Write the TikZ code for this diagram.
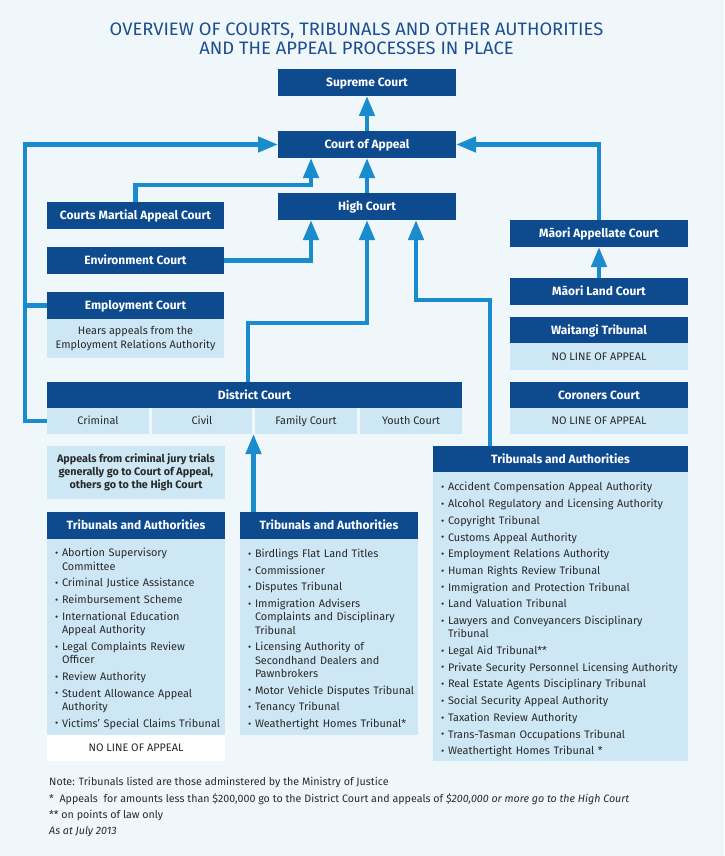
\documentclass[tikz,border=0pt]{standalone}
\usepackage{fontspec}
\setmainfont{Fira Sans}
\newfontfamily\titlefont[FakeStretch=1.02]{Fira Sans}
\usepackage{graphicx}
\usetikzlibrary{arrows.meta,calc}
\definecolor{bgc}{HTML}{F0F7FB}
\definecolor{dkc}{HTML}{0D4A8E}
\definecolor{ltc}{HTML}{CDE7F4}
\definecolor{arc}{HTML}{1A8CCE}
\definecolor{ttc}{HTML}{1D4E8F}
\definecolor{txc}{HTML}{2A2A2A}
\newcommand\itm[1]{\par\hangindent=7pt\hangafter=1\noindent\strut\makebox[7pt][l]{\raisebox{0.3pt}{\scalebox{0.9}{\textbullet}}}#1}
\newcommand\nl{\hfil\break}
\tikzset{
  box/.style={inner sep=0pt, outer sep=0pt, anchor=north west},
  hdr/.style={box, fill=dkc, text=white, font=\fontsize{12}{13}\selectfont\bfseries, text height=8.2pt, text depth=0pt},
  cell/.style={box, fill=ltc, text=txc, font=\fontsize{10.9}{13.3}\selectfont, text height=7.5pt, text depth=0pt},
  pane/.style={box, fill=ltc},
  listtxt/.style={inner sep=0pt, outer sep=0pt, anchor=north west, text=txc, font=\fontsize{10.9}{13.3}\selectfont, align=left},
  arr/.style={draw=arc, line width=4.5pt, -{Triangle[length=20pt,width=15pt]}},
  ln/.style={draw=arc, line width=4.5pt},
  note/.style={inner sep=0pt, anchor=base west, text=txc, font=\fontsize{10.7}{12}\selectfont},
  ttl/.style={inner sep=0pt, anchor=base, text=ttc, font=\titlefont\fontsize{18}{19}\selectfont},
}
\begin{document}
\begin{tikzpicture}[x=1pt,y=-1pt]
\fill[bgc] (0,0) rectangle (724,856);
\useasboundingbox (0,0) rectangle (724,856);
% title
\node[ttl] (t1) at (356.5,36) {OVERVIEW OF COURTS, TRIBUNALS AND OTHER AUTHORITIES};
\node[ttl] (t2) at (356.5,55) {AND THE APPEAL PROCESSES IN PLACE};
% central courts
\node[hdr, minimum width=178pt, minimum height=27pt] (sc) at (278,69) {Supreme Court};
\node[hdr, minimum width=178pt, minimum height=27pt] (coa) at (278,131) {Court of Appeal};
\node[hdr, minimum width=178pt, minimum height=27pt] (hc) at (278,193) {High Court};
% left courts
\node[hdr, minimum width=177pt, minimum height=27pt] (cma) at (47,202) {Courts Martial Appeal Court};
\node[hdr, minimum width=177pt, minimum height=27pt] (env) at (47,247) {Environment Court};
\node[hdr, minimum width=177pt, minimum height=27pt] (emp) at (47,292) {Employment Court};
\node[box, fill=ltc, text=txc, font=\fontsize{10.9}{13.3}\selectfont, align=center, minimum width=177pt, minimum height=39pt] (empd) at (47,319) {Hears appeals from the\\Employment Relations Authority};
% district court
\node[hdr, minimum width=415pt, minimum height=26pt] (dc) at (47,382) {District Court};
\node[cell, minimum width=102pt, minimum height=26pt] (crim) at (47,408) {Criminal};
\node[cell, minimum width=100pt, minimum height=26pt] (civ) at (152,408) {Civil};
\node[cell, minimum width=102pt, minimum height=26pt] (fam) at (255,408) {Family Court};
\node[cell, minimum width=102pt, minimum height=26pt] (yth) at (360,408) {Youth Court};
% appeals note
\node[box, fill=ltc, text=txc, font=\fontsize{10.8}{13.3}\selectfont\bfseries, align=center, minimum width=178pt, minimum height=53pt] (apl) at (47,446) {Appeals from criminal jury trials\\generally go to Court of Appeal,\\others go to the High Court};
% left tribunals
\node[hdr, minimum width=178pt, minimum height=27pt] (lth) at (47,512) {Tribunals and Authorities};
\node[pane, minimum width=178pt, minimum height=196pt] (ltl) at (47,539) {};
\node[listtxt, text width=170pt] (ltt) at (55,540.2) {\setlength\parskip{3.4pt}%
\itm{Abortion Supervisory\nl Committee}
\itm{Criminal Justice Assistance}
\itm{Reimbursement Scheme}
\itm{International Education\nl Appeal Authority}
\itm{Legal Complaints Review\nl Officer}
\itm{Review Authority}
\itm{Student Allowance Appeal\nl Authority}
\itm{Victims' Special Claims Tribunal}};
\node[box, fill=white, text=txc, font=\fontsize{10.9}{13.3}\selectfont, text height=7.5pt, text depth=0pt, minimum width=178pt, minimum height=26pt] (lno) at (47,735) {NO LINE OF APPEAL};
% middle tribunals
\node[hdr, minimum width=178pt, minimum height=27pt] (mth) at (240,512) {Tribunals and Authorities};
\node[pane, minimum width=178pt, minimum height=196pt] (mtl) at (240,539) {};
\node[listtxt, text width=172pt] (mtt) at (248,540.8) {\setlength\parskip{3.4pt}%
\itm{Birdlings Flat Land Titles}
\itm{Commissioner}
\itm{Disputes Tribunal}
\itm{Immigration Advisers\nl Complaints and Disciplinary\nl Tribunal}
\itm{Licensing Authority of\nl Secondhand Dealers and\nl Pawnbrokers}
\itm{Motor Vehicle Disputes Tribunal}
\itm{Tenancy Tribunal}
\itm{Weathertight Homes Tribunal*}};
% right tribunals
\node[hdr, minimum width=255pt, minimum height=26pt] (rth) at (433,446) {Tribunals and Authorities};
\node[pane, minimum width=255pt, minimum height=289pt] (rtl) at (433,472) {};
\node[listtxt, text width=252pt] (rtt) at (441,474.2) {\setlength\parskip{3.4pt}%
\itm{Accident Compensation Appeal Authority}
\itm{Alcohol Regulatory and Licensing Authority}
\itm{Copyright Tribunal}
\itm{Customs Appeal Authority}
\itm{Employment Relations Authority}
\itm{Human Rights Review Tribunal}
\itm{Immigration and Protection Tribunal}
\itm{Land Valuation Tribunal}
\itm{Lawyers and Conveyancers Disciplinary\nl Tribunal}
\itm{Legal Aid Tribunal**}
\itm{Private Security Personnel Licensing Authority}
\itm{Real Estate Agents Disciplinary Tribunal}
\itm{Social Security Appeal Authority}
\itm{Taxation Review Authority}
\itm{Trans-Tasman Occupations Tribunal}
\itm{Weathertight Homes Tribunal *}};
% right column
\node[hdr, minimum width=178pt, minimum height=27pt] (mac) at (510,220) {Māori Appellate Court};
\node[hdr, minimum width=178pt, minimum height=27pt] (mlc) at (510,278) {Māori Land Court};
\node[hdr, minimum width=178pt, minimum height=26pt] (wt) at (510,317) {Waitangi Tribunal};
\node[cell, minimum width=178pt, minimum height=27pt] (wtn) at (510,343) {NO LINE OF APPEAL};
\node[hdr, minimum width=178pt, minimum height=26pt] (cc) at (510,382) {Coroners Court};
\node[cell, minimum width=178pt, minimum height=26pt] (ccn) at (510,408) {NO LINE OF APPEAL};
% connectors
\coordinate (cmbend) at (311,185);
\coordinate (dcbend) at (248,323);
\coordinate (rtbend) at (490,300);
\coordinate (hcr) at (416,0);
\coordinate (lx) at (25,0);
\coordinate (gap) at ($(civ.south east)!0.5!(fam.south west)$);
\draw[arr] (coa.north) -- (sc.south);
\draw[arr] (hc.north) -- (coa.south);
\draw[arr] (cma.north) |- (cmbend) -- (coa.south -| cmbend);
\draw[arr] (env.east) -| (hc.south -| cmbend);
\draw[arr] (dc.north -| dcbend) -- (dcbend) -| (hc.south);
\draw[arr] (rth.north -| rtbend) -- (rtbend) -| (hc.south -| hcr);
\draw[arr] (crim.west) -| (lx |- coa.west) -- (coa.west);
\draw[ln] (emp.west) -- (emp.west -| lx);
\draw[arr] (mac.north) |- (coa.east);
\draw[arr] (mlc.north) -- (mac.south);
\draw[arr] (mth.north -| gap) -- (gap);
% notes
\node[note] (n1) at (49,785.3) {Note: Tribunals listed are those adminstered by the Ministry of Justice};
\node[note] (n2) at (49,802) {*\ \ Appeals\ \ for amounts less than \$200,000 go to the District Court and appeals of \textit{\$200,000 or more go to the High Court}};
\node[note] (n3) at (49,818.7) {** on points of law only};
\node[note] (n4) at (49,834.3) {\textit{As at July 2013}};
\end{tikzpicture}
\end{document}
